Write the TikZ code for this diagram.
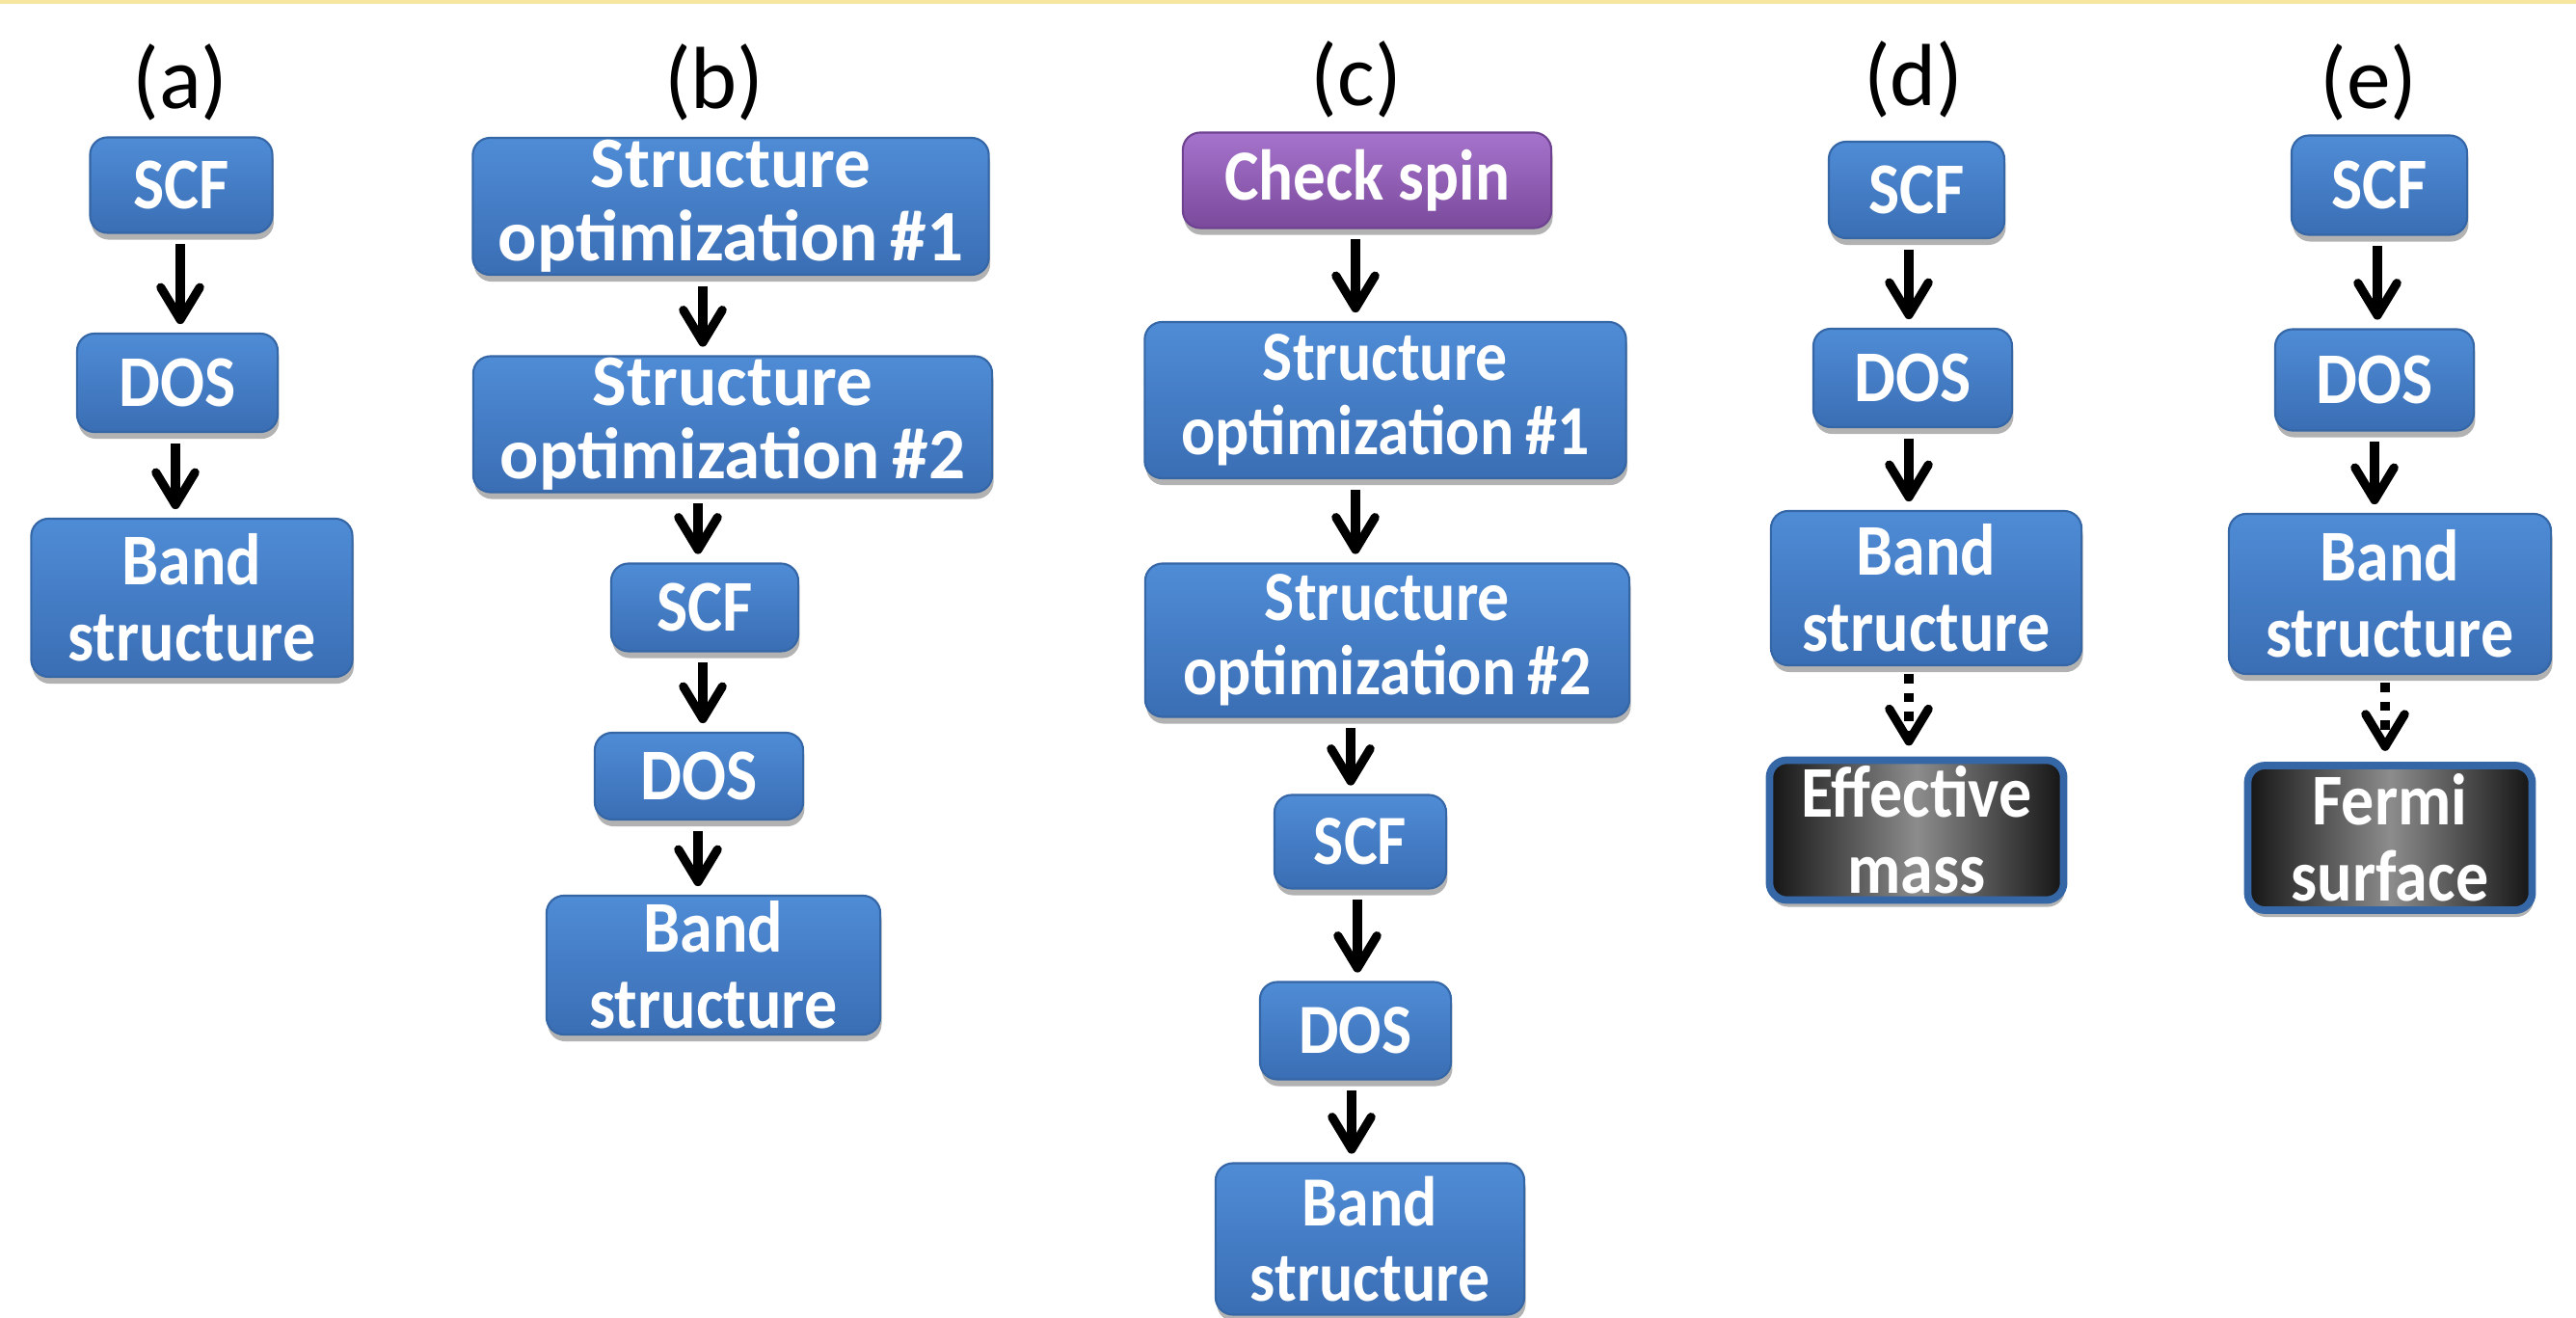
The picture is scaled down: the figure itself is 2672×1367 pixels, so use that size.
\documentclass[tikz,border=0pt]{standalone}
\usepackage{fontspec}
\setmainfont{Carlito}
\newfontfamily\bxfont[FakeStretch=0.9]{Carlito}
\newfontfamily\bxwide{Carlito}
\usetikzlibrary{arrows.meta,shadows}
\definecolor{bluetop}{HTML}{4F8CD6}
\definecolor{bluebot}{HTML}{3A6EB4}
\definecolor{blueedge}{HTML}{3566A6}
\definecolor{purptop}{HTML}{A673CC}
\definecolor{purpbot}{HTML}{7A4A9C}
\definecolor{purpedge}{HTML}{6E4290}
\definecolor{topline}{HTML}{F6E6A0}
\begin{document}
\begin{tikzpicture}[x=0.01cm,y=-0.01cm,
  boxbase/.style={rectangle, rounded corners=0.18cm, align=center, inner sep=0pt,
    text=white, line width=0.6pt,
    drop shadow={shadow xshift=0.4pt, shadow yshift=-2pt, opacity=0.3, fill=black}},
  bbox/.style={boxbase, top color=bluetop, bottom color=bluebot, draw=blueedge,
    font=\bxfont\bfseries\fontsize{21.5}{22.5}\selectfont},
  cfont/.style={font=\bxfont\bfseries\fontsize{20.8}{22}\selectfont},
  wfont/.style={font=\bxwide\bfseries\fontsize{21.4}{21.5}\selectfont},
  pbox/.style={boxbase, top color=purptop, bottom color=purpbot, draw=purpedge,
    font=\bxfont\bfseries\fontsize{21.2}{22}\selectfont},
  dbox/.style={boxbase, left color=black!92, right color=black!92, middle color=black!45,
    draw=blueedge, line width=2.2pt,
    font=\bxfont\bfseries\fontsize{21.5}{22.5}\selectfont},
  sz/.style 2 args={minimum width=#1, minimum height=#2},
  lab/.style={font=\fontsize{26}{28}\selectfont, inner sep=0pt},
  arr/.style={line width=2.6pt, -{Straight Barb[length=9.5pt,width=11.5pt,line cap=round,line join=round]},
    shorten <=3pt, shorten >=2.5pt},
  darr/.style={arr, dash pattern=on 2.8pt off 2.8pt, shorten <=2.2pt, shorten >=3.2pt}]
\useasboundingbox (0,0) rectangle (2672,1367);
\fill[topline] (0,0) rectangle (2672,4);
% labels
\node[lab] (la) at (187,85) {(a)};
\node[lab] (lb) at (741,85) {(b)};
\node[lab] (lc) at (1407,82) {(c)};
\node[lab] (ld) at (1985,82) {(d)};
\node[lab] (le) at (2457,85) {(e)};
% column a
\node[bbox, sz={1.89cm}{0.99cm}] (a1) at (188,192) {SCF};
\node[bbox, sz={2.08cm}{1.02cm}] (a2) at (184,397) {DOS};
\node[bbox, sz={3.33cm}{1.64cm}] (a3) at (199,620) {Band\\structure};
% column b
\node[bbox, wfont, sz={5.35cm}{1.42cm}] (b1) at (758,214) {Structure\\optimization\,\#1};
\node[bbox, wfont, sz={5.38cm}{1.41cm}] (b2) at (760,440) {Structure\\optimization\,\#2};
\node[bbox, sz={1.94cm}{0.91cm}] (b3) at (731,630) {SCF};
\node[bbox, sz={2.16cm}{0.90cm}] (b4) at (725,805) {DOS};
\node[bbox, sz={3.46cm}{1.44cm}] (b5) at (740,1001) {Band\\structure};
% column c
\node[pbox, sz={3.82cm}{0.99cm}] (c1) at (1418,187) {Check spin};
\node[bbox, cfont, sz={4.99cm}{1.62cm}] (c2) at (1437,415) {Structure\\optimization\,\#1};
\node[bbox, cfont, sz={5.02cm}{1.59cm}] (c3) at (1439,664) {Structure\\optimization\,\#2};
\node[bbox, cfont, sz={1.78cm}{0.97cm}] (c4) at (1411,873) {SCF};
\node[bbox, cfont, sz={1.98cm}{1.01cm}] (c5) at (1406,1069) {DOS};
\node[bbox, cfont, sz={3.20cm}{1.57cm}] (c6) at (1421,1285) {Band\\structure};
% column d
\node[bbox, sz={1.82cm}{1.00cm}] (d1) at (1988,197) {SCF};
\node[bbox, sz={2.06cm}{1.02cm}] (d2) at (1984,392) {DOS};
\node[bbox, sz={3.22cm}{1.60cm}] (d3) at (1998,610) {Band\\structure};
\node[dbox, sz={3.05cm}{1.45cm}] (d4) at (1988,861) {Effective\\mass};
% column e
\node[bbox, sz={1.82cm}{1.03cm}] (e1) at (2468,192) {SCF};
\node[bbox, sz={2.06cm}{1.05cm}] (e2) at (2463,394) {DOS};
\node[bbox, sz={3.34cm}{1.66cm}] (e3) at (2479,616) {Band\\structure};
\node[dbox, sz={2.95cm}{1.50cm}] (e4) at (2479,869) {Fermi\\surface};
% arrows
\draw[arr] (a1.south -| 187,0) -- (a2.north -| 187,0);
\draw[arr] (a2.south -| 182,0) -- (a3.north -| 182,0);
\draw[arr] (b1.south -| 729,0) -- (b2.north -| 729,0);
\draw[arr] (b2.south -| 724,0) -- (b3.north -| 724,0);
\draw[arr] (b3.south -| 729,0) -- (b4.north -| 729,0);
\draw[arr] (b4.south -| 724,0) -- (b5.north -| 724,0);
\draw[arr] (c1.south -| 1406,0) -- (c2.north -| 1406,0);
\draw[arr] (c2.south -| 1406,0) -- (c3.north -| 1406,0);
\draw[arr] (c3.south -| 1401,0) -- (c4.north -| 1401,0);
\draw[arr] (c4.south -| 1408,0) -- (c5.north -| 1408,0);
\draw[arr] (c5.south -| 1402,0) -- (c6.north -| 1402,0);
\draw[arr] (d1.south -| 1980,0) -- (d2.north -| 1980,0);
\draw[arr] (d2.south -| 1980,0) -- (d3.north -| 1980,0);
\draw[darr] (d3.south -| 1980,0) -- (d4.north -| 1980,0);
\draw[arr] (e1.south -| 2466,0) -- (e2.north -| 2466,0);
\draw[arr] (e2.south -| 2463,0) -- (e3.north -| 2463,0);
\draw[darr] (e3.south -| 2474,0) -- (e4.north -| 2474,0);
\end{tikzpicture}
\end{document}
